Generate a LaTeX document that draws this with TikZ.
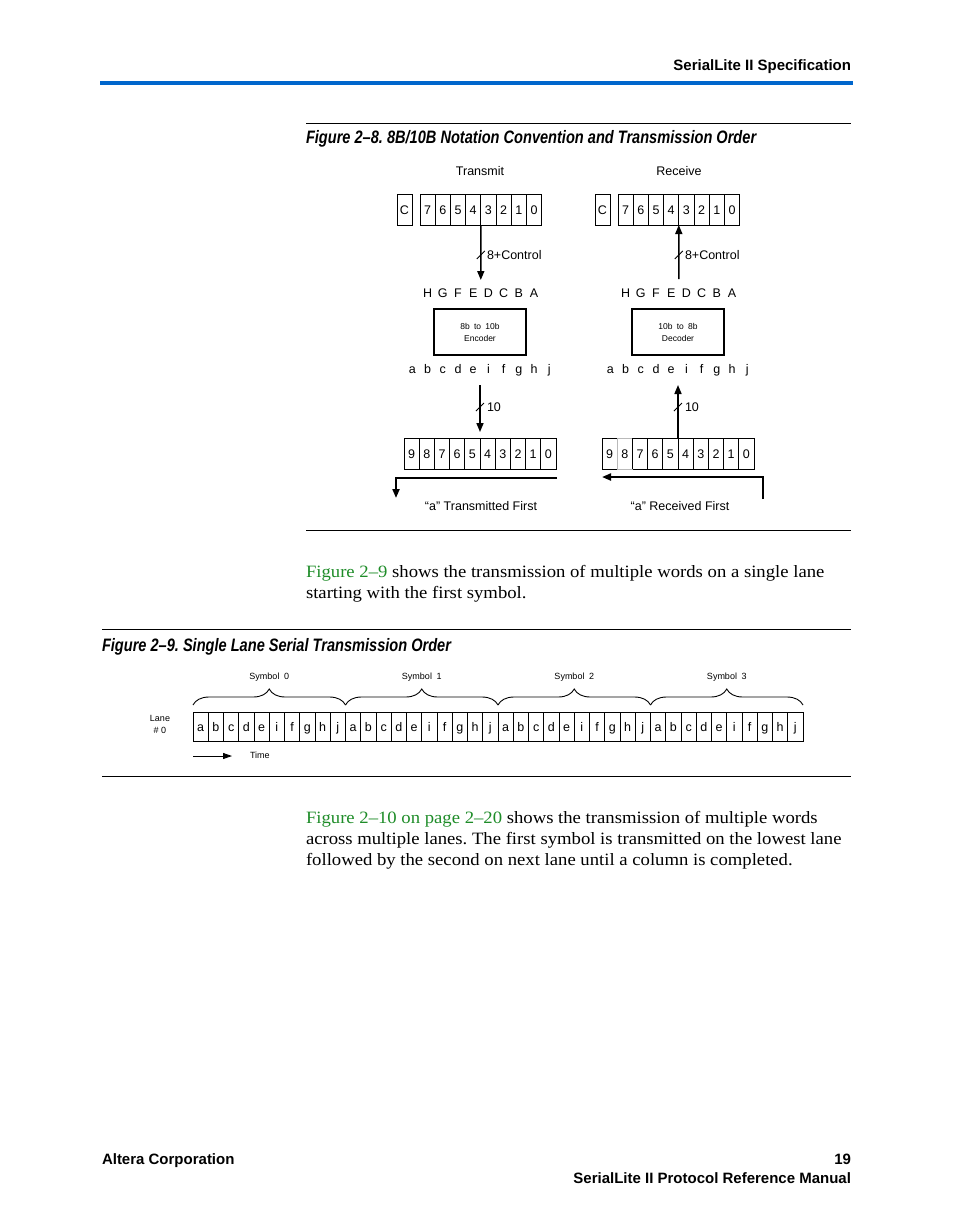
\documentclass[tikz,border=0pt]{standalone}
\usepackage{fontspec}
\setmainfont{Liberation Serif}
\setsansfont{Liberation Sans}
\newfontfamily\capfont[FakeStretch=0.81]{Liberation Sans}
\newfontfamily\bodyfont[FakeStretch=1.08]{Liberation Serif}
\usetikzlibrary{arrows.meta,decorations.pathreplacing,calc}
\definecolor{barblue}{RGB}{0,102,204}
\definecolor{linkgreen}{RGB}{30,140,40}
\frenchspacing
\tikzset{
  every node/.style={inner sep=0pt, outer sep=0pt},
  lbl/.style={font=\sffamily\fontsize{12.5}{14}\selectfont},
  tiny/.style={font=\sffamily\fontsize{9}{12}\selectfont},
  cell/.style={draw, line width=0.9pt, minimum width=15.2pt, minimum height=31pt,
    font=\sffamily\fontsize{12.5}{14}\selectfont, text height=9pt, text depth=0pt},
  scell/.style={cell, minimum width=15.25pt, minimum height=29pt},
  arr/.style={line width=1.6pt, -{Triangle[length=9pt,width=7pt]}},
  arrbig/.style={line width=2pt, -{Triangle[length=9pt,width=7pt]}},
  slash/.style={line width=0.9pt},
  rule/.style={line width=0.8pt},
  hdrfont/.style={font=\sffamily\bfseries\fontsize{15}{18}\selectfont},
  capt/.style={font=\capfont\bfseries\itshape\fontsize{18}{20}\selectfont},
  body/.style={font=\bodyfont\frenchspacing\fontsize{17.3}{21}\selectfont},
  brc/.style={decorate, decoration={brace, amplitude=16pt, raise=7pt}, line width=0.9pt}
}
\begin{document}
\begin{tikzpicture}[x=1pt,y=-1pt]
\useasboundingbox (0,0) rectangle (954,1227);

% header
\node[hdrfont, anchor=base east] (hdr) at (851,70) {SerialLite II Specification};
\draw[barblue, line width=4pt] (100,82.5) -- (853,82.5);

% figure 2-8
\draw[rule] (306,123) -- (851,123);
\node[capt, anchor=base west] (cap1) at (306,143.5) {Figure 2–8. 8B/10B Notation Convention and Transmission Order};

% ---------- transmit ----------
\node[lbl, anchor=base] (ttitle) at (480,175.5) {Transmit};
\node[cell, minimum width=15pt] (tC) at (404.5,209.5) {C};
\foreach \d [count=\i from 0] in {7,6,5,4,3,2,1,0}
  \node[cell] (tt\d) at (427.6+15.2*\i,209.5) {\d};
\coordinate (tHin) at (480.8,280);
\draw[arr] (tt4.south east) -- (tHin);
\coordinate (ts1) at (480.8,255);
\draw[slash] ($(ts1)+(-4,4)$) -- ($(ts1)+(4,-4)$);
\node[lbl, anchor=base west] (tctl) at (487,259.5) {8+Control};
\foreach \l [count=\i from 0] in {H,G,F,E,D,C,B,A}
  \node[lbl, anchor=base] (tH\i) at (427.6+15.2*\i,297.5) {\l};
\node[draw, line width=1.2pt, minimum width=92pt, minimum height=46pt, align=center,
  font=\sffamily\fontsize{8.5}{12}\selectfont] (enc) at (480,332) {8b\enspace to\enspace 10b\\Encoder};
\foreach \l [count=\i from 0] in {a,b,c,d,e,i,f,g,h,j}
  \node[lbl, anchor=base] (ta\i) at (412.4+15.2*\i,373.5) {\l};
\foreach \d [count=\i from 0] in {9,8,7,6,5,4,3,2,1,0}
  \node[cell] (tb\d) at (411.6+15.2*\i,453.5) {\d};
\coordinate (tTen) at (480,385);
\draw[arr, shorten >=6pt] (tTen) -- (tb5.north east);
\coordinate (ts2) at (480,407);
\draw[slash] ($(ts2)+(-4,4)$) -- ($(ts2)+(4,-4)$);
\node[lbl, anchor=base west] (tten) at (487,411.5) {10};
\coordinate (tf1) at (557,478);
\coordinate (tf2) at (396,498);
\draw[arrbig] (tf1) -| (tf2);
\node[lbl, anchor=base] (tfirst) at (481,510.5) {“a” Transmitted First};

% ---------- receive ----------
\node[lbl, anchor=base] (rtitle) at (679,175.5) {Receive};
\node[cell, minimum width=15pt] (rC) at (602.5,209.5) {C};
\foreach \d [count=\i from 0] in {7,6,5,4,3,2,1,0}
  \node[cell] (rt\d) at (625.6+15.2*\i,209.5) {\d};
\coordinate (rHout) at (678.8,279);
\draw[arr] (rHout) -- (rt4.south east);
\coordinate (rs1) at (678.8,255);
\draw[slash] ($(rs1)+(-4,4)$) -- ($(rs1)+(4,-4)$);
\node[lbl, anchor=base west] (rctl) at (685,259.5) {8+Control};
\foreach \l [count=\i from 0] in {H,G,F,E,D,C,B,A}
  \node[lbl, anchor=base] (rH\i) at (625.6+15.2*\i,297.5) {\l};
\node[draw, line width=1.2pt, minimum width=92pt, minimum height=46pt, align=center,
  font=\sffamily\fontsize{8.5}{12}\selectfont] (dec) at (678,332) {10b\enspace to\enspace 8b\\Decoder};
\foreach \l [count=\i from 0] in {a,b,c,d,e,i,f,g,h,j}
  \node[lbl, anchor=base] (ra\i) at (610.4+15.2*\i,373.5) {\l};
\foreach \d [count=\i from 0] in {9,8,7,6,5,4,3,2,1,0}
  \node[cell] (rb\d) at (609.6+15.2*\i,453.5) {\d};
\draw[gray!55, line width=0.9pt] (rb8.north west) rectangle (rb8.south east);
\draw[line width=0.9pt] (rb7.north west) -- (rb7.south west);
\coordinate (rTen) at (678,385);
\draw[arr] (rb5.north east) -- (rTen);
\coordinate (rs2) at (678,407);
\draw[slash] ($(rs2)+(-4,4)$) -- ($(rs2)+(4,-4)$);
\node[lbl, anchor=base west] (rten) at (685,411.5) {10};
\coordinate (rf1) at (763,499);
\coordinate (rf2) at (602,477);
\draw[arrbig] (rf1) |- (rf2);
\node[lbl, anchor=base] (rfirst) at (680,510.5) {“a” Received First};

\draw[rule] (306,530) -- (851,530);

% paragraph 1
\node[body, anchor=base west] (p1a) at (306,577.5) {\textcolor{linkgreen}{Figure 2–9} shows the transmission of multiple words on a single lane};
\node[body, anchor=base west] (p1b) at (306,598.5) {starting with the first symbol.};

% figure 2-9
\draw[rule] (102,629) -- (851,629);
\node[capt, anchor=base west] (cap2) at (102,651.5) {Figure 2–9. Single Lane Serial Transmission Order};

\node[tiny, align=center] (lane) at (160,724) {Lane\\\# 0};
\foreach \l [count=\i] in {a,b,c,d,e,i,f,g,h,j,a,b,c,d,e,i,f,g,h,j,a,b,c,d,e,i,f,g,h,j,a,b,c,d,e,i,f,g,h,j}
  \node[scell] (s\i) at (200.625+15.25*\i-15.25,726.5) {\l};
\draw[brc] (s1.north west) -- (s10.north east);
\draw[brc] (s11.north west) -- (s20.north east);
\draw[brc] (s21.north west) -- (s30.north east);
\draw[brc] (s31.north west) -- (s40.north east);
\coordinate (symy) at (0,679.5);
\node[tiny, anchor=base] (sym0) at (s5.east |- symy) {Symbol\enspace 0};
\node[tiny, anchor=base] (sym1) at (s15.east |- symy) {Symbol\enspace 1};
\node[tiny, anchor=base] (sym2) at (s25.east |- symy) {Symbol\enspace 2};
\node[tiny, anchor=base] (sym3) at (s35.east |- symy) {Symbol\enspace 3};
\coordinate (tm0) at (193,756);
\coordinate (tm1) at (232,756);
\draw[line width=0.9pt, -{Triangle[length=9pt,width=6pt]}] (tm0) -- (tm1);
\node[tiny, anchor=west] (time) at (250,755) {Time};
\draw[rule] (102,776) -- (851,776);

% paragraph 2
\node[body, anchor=base west] (p2a) at (306,823) {\textcolor{linkgreen}{Figure 2–10 on page 2–20} shows the transmission of multiple words};
\node[body, anchor=base west] (p2b) at (306,844) {across multiple lanes. The first symbol is transmitted on the lowest lane};
\node[body, anchor=base west] (p2c) at (306,865) {followed by the second on next lane until a column is completed.};

% footer
\node[hdrfont, anchor=base west] (f1) at (102,1164) {Altera Corporation};
\node[hdrfont, anchor=base east] (f2) at (851,1164) {19};
\node[hdrfont, anchor=base east] (f3) at (851,1183) {SerialLite II Protocol Reference Manual};
\end{tikzpicture}
\end{document}
